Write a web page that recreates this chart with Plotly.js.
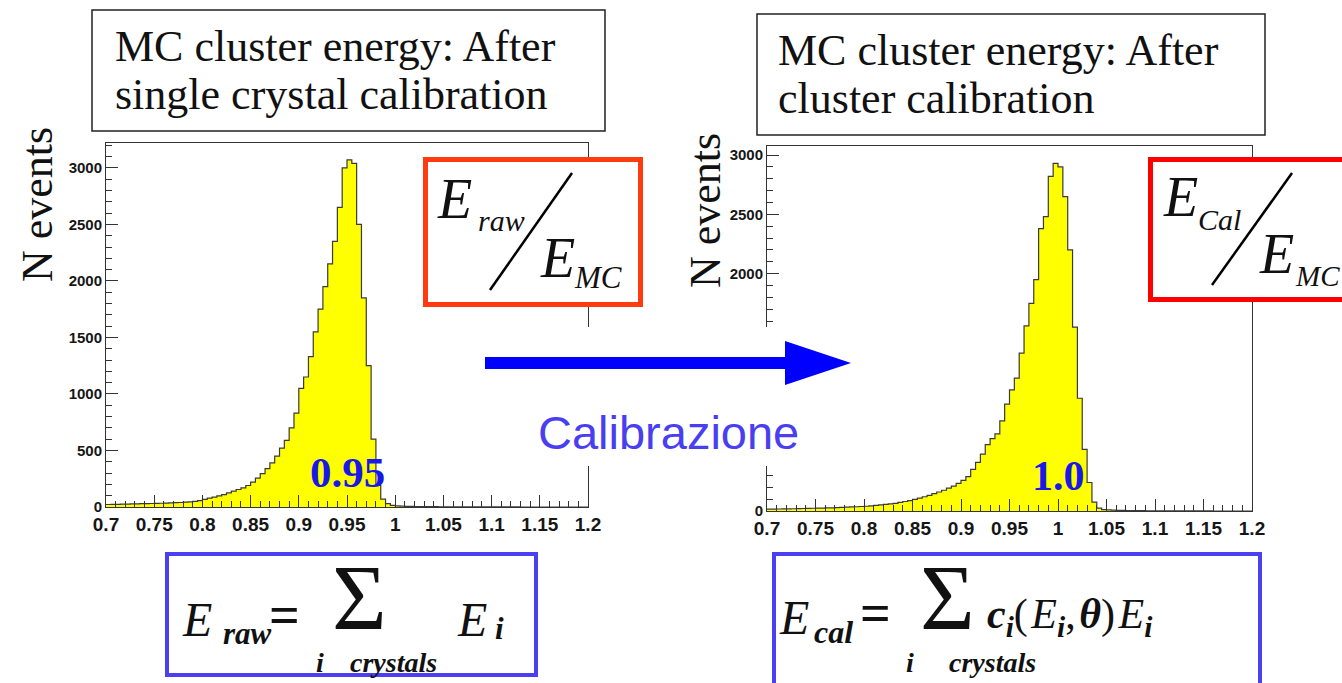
<!DOCTYPE html>
<html>
<head>
<meta charset="utf-8">
<script src="https://cdn.plot.ly/plotly-3.0.1.min.js"></script>
<style>
  html, body { margin: 0; padding: 0; background: #ffffff; }
  #chart { width: 1342px; height: 683px; }
</style>
</head>
<body>
<div id="chart"></div>
<script>
// Histogram binning: 100 bins of width 0.005 between 0.7 and 1.2
const binStart = 0.7;
const binWidth = 0.005;

// E_raw / E_MC after single crystal calibration (entries per bin)
const rawCounts = [
  22, 24, 23, 25, 26, 27, 28, 29, 30, 31,
  32, 33, 34, 36, 38, 40, 43, 46, 50, 56,
  68, 78, 88, 98, 110, 125, 140, 155, 170, 190,
  220, 255, 295, 340, 390, 450, 520, 590, 700, 830,
  1050, 1150, 1330, 1550, 1750, 1950, 2150, 2350, 2650, 3000,
  3070, 3040, 2500, 1850, 1250, 600, 190, 70, 30, 15,
  10, 7, 6, 5, 4, 4, 3, 3, 3, 2,
  2, 2, 2, 2, 1, 1, 1, 1, 1, 1,
  1, 1, 1, 1, 1, 1, 0, 0, 0, 0,
  0, 0, 0, 0, 0, 0, 0, 0, 0, 0
];

// E_Cal / E_MC after cluster calibration (entries per bin)
const calCounts = [
  15, 16, 17, 18, 18, 19, 20, 21, 22, 23,
  24, 25, 26, 27, 28, 30, 32, 34, 36, 38,
  40, 44, 48, 52, 56, 60, 65, 72, 80, 88,
  98, 108, 120, 132, 146, 160, 175, 192, 210, 232,
  258, 290, 350, 410, 480, 560, 610, 650, 760, 900,
  1020, 1120, 1330, 1560, 1750, 1950, 2380, 2480, 2820, 2930,
  2900, 2650, 2200, 1550, 950, 520, 240, 75, 25, 12,
  9, 7, 6, 5, 4, 4, 3, 3, 2, 2,
  2, 2, 2, 1, 1, 1, 1, 1, 1, 1,
  1, 1, 0, 0, 0, 0, 0, 0, 0, 0
];

// Peak positions quoted on each histogram
const rawPeak = 0.95;
const calPeak = 1.0;
const rawPeakLabel = "0.95";
const calPeakLabel = "1.0";

// Axis ticks
const xTickVals = [0.7, 0.75, 0.8, 0.85, 0.9, 0.95, 1.0, 1.05, 1.1, 1.15, 1.2];
const xTickText = ["0.7", "0.75", "0.8", "0.85", "0.9", "0.95", "1", "1.05", "1.1", "1.15", "1.2"];
const yTickValsRaw = [0, 500, 1000, 1500, 2000, 2500, 3000];
const yTickTextRaw = ["0", "500", "1000", "1500", "2000", "2500", "3000"];
// the 500-1500 ticks of the second panel lie behind the caption panel
const yTickValsCal = [0, 2000, 2500, 3000];
const yTickTextCal = ["0", "2000", "2500", "3000"];

const W = 1342, H = 683;
const px = v => v / W;
const py = v => 1 - v / H;
const bold = labels => labels.map(t => '<b>' + t + '</b>');

function histTraces(counts, xa, ya) {
  const centers = counts.map((c, i) => binStart + binWidth * (i + 0.5));
  const edges = counts.map((c, i) => binStart + binWidth * i);
  edges.push(binStart + binWidth * counts.length);
  const stepY = counts.concat([counts[counts.length - 1]]);
  return [
    {
      type: 'bar', x: centers, y: counts, width: binWidth,
      marker: { color: '#ffff00', line: { width: 0 } },
      xaxis: xa, yaxis: ya, hoverinfo: 'skip', showlegend: false
    },
    {
      type: 'scatter', mode: 'lines', x: edges, y: stepY,
      line: { shape: 'hv', color: '#3a3a3a', width: 1.2 },
      xaxis: xa, yaxis: ya, hoverinfo: 'skip', showlegend: false
    }
  ];
}

const tickFamily = 'Liberation Sans, Arial, sans-serif';

function xAxis(domain, anchor) {
  return {
    domain: domain, anchor: anchor, range: [0.7, 1.2],
    tickvals: xTickVals, ticktext: bold(xTickText),
    ticks: 'inside', ticklen: 12, tickwidth: 1, tickcolor: '#333',
    minor: { ticks: 'inside', tick0: 0.7, dtick: 0.01, ticklen: 6, tickwidth: 1, tickcolor: '#333' },
    showline: true, linecolor: '#333', linewidth: 1, mirror: true,
    showgrid: false, zeroline: false, fixedrange: true,
    tickfont: { family: tickFamily, size: 19, color: '#161616' }
  };
}

function yAxis(domain, anchor, top, vals, labels) {
  return {
    domain: domain, anchor: anchor, range: [0, top],
    tickvals: vals, ticktext: bold(labels),
    ticks: 'inside', ticklen: 12, tickwidth: 1, tickcolor: '#333',
    minor: { ticks: 'inside', tick0: 0, dtick: 100, ticklen: 6, tickwidth: 1, tickcolor: '#333' },
    showline: true, linecolor: '#333', linewidth: 1, mirror: true,
    showgrid: false, zeroline: false, fixedrange: true,
    tickfont: { family: tickFamily, size: 15, color: '#161616' }
  };
}

const data = histTraces(rawCounts, 'x', 'y').concat(histTraces(calCounts, 'x2', 'y2'));

const serif = 'Liberation Serif, Times New Roman, serif';
const blueBox = '#4b3ff2';

function note(text, x, y, size, opts) {
  return Object.assign({
    text: text, x: px(x), y: py(y), xref: 'paper', yref: 'paper',
    xanchor: 'left', yanchor: 'middle', showarrow: false,
    font: { family: serif, size: size, color: '#111' }
  }, opts || {});
}

const subI = '<sub><b><i>i</i></b></sub>';

const annotations = [
  // titles
  note('MC cluster energy: After', 113, 47, 44),
  note('single crystal calibration', 113, 95, 44),
  note('MC cluster energy: After', 776, 50, 44),
  note('cluster calibration', 776, 98, 44),
  // y axis titles
  note('N events', 37, 205, 44, { xanchor: 'center', textangle: -90 }),
  note('N events', 705, 210, 44, { xanchor: 'center', textangle: -90 }),
  // ratio E_raw / E_MC
  note('<i>E</i>', 435, 199, 56),
  note('<i>raw</i>', 476, 220, 30),
  note('<i>E</i>', 538, 258, 56),
  note('<i>MC</i>', 572, 277, 31),
  // ratio E_Cal / E_MC
  note('<i>E</i>', 1161, 197, 56),
  note('<i>Cal</i>', 1196, 219, 30),
  note('<i>E</i>', 1257, 254, 56),
  note('<i>MC</i>', 1293, 276, 29),
  // peak values
  {
    text: '<b>' + rawPeakLabel + '</b>', x: rawPeak, xref: 'x', y: py(472), yref: 'paper',
    xanchor: 'center', yanchor: 'middle', showarrow: false,
    font: { family: serif, size: 43, color: '#1818e8' }
  },
  {
    text: '<b>' + calPeakLabel + '</b>', x: calPeak, xref: 'x2', y: py(476), yref: 'paper',
    xanchor: 'center', yanchor: 'middle', showarrow: false,
    font: { family: serif, size: 42, color: '#1818e8' }
  },
  // arrow caption
  note('Calibrazione', 668, 432, 47, {
    xanchor: 'center',
    font: { family: 'Liberation Sans, Arial, sans-serif', size: 47, color: '#4a3ff0' }
  }),
  // E_raw formula
  note('<i>E</i>', 180, 619, 48),
  note('<b><i>raw</i></b>', 221, 633, 31),
  note('<b>=</b>', 267, 615, 54),
  note('\u03A3', 359, 597, 94, { xanchor: 'center' }),
  note('<b><i>i</i></b>', 320, 662, 28, { xanchor: 'center' }),
  note('<b><i>crystals</i></b>', 393, 662, 28, { xanchor: 'center' }),
  note('<i>E</i>', 455, 619, 48),
  note('<b><i>i</i></b>', 493, 628, 31),
  // E_cal formula
  note('<i>E</i>', 777, 617, 48),
  note('<b><i>cal</i></b>', 812, 632, 32),
  note('<b>=</b>', 858, 613, 54),
  note('\u03A3', 947, 597, 94, { xanchor: 'center' }),
  note('<b><i>i</i></b>', 910, 662, 28, { xanchor: 'center' }),
  note('<b><i>crystals</i></b>', 992, 662, 28, { xanchor: 'center' }),
  note('<b><i>c</i></b>' + subI + '(\u200A<i>E</i>' + subI + ',\u200A<b><i>\u03B8</i></b>)\u200A<i>E</i>' + subI,
       985, 617, 42)
];

const shapes = [
  // title boxes
  { type: 'rect', xref: 'paper', yref: 'paper', x0: px(92), x1: px(605), y0: py(10), y1: py(131),
    line: { color: '#222', width: 1.5 }, fillcolor: 'rgba(0,0,0,0)' },
  { type: 'rect', xref: 'paper', yref: 'paper', x0: px(757), x1: px(1265), y0: py(14), y1: py(135),
    line: { color: '#222', width: 1.5 }, fillcolor: 'rgba(0,0,0,0)' },
  // ratio boxes
  { type: 'rect', xref: 'paper', yref: 'paper', x0: px(425.5), x1: px(640.5), y0: py(159.5), y1: py(304.5),
    line: { color: '#ff3b0f', width: 5 }, fillcolor: '#ffffff' },
  { type: 'rect', xref: 'paper', yref: 'paper', x0: px(1150.5), x1: px(1348), y0: py(159.5), y1: py(299.5),
    line: { color: '#ff0000', width: 5 }, fillcolor: '#ffffff' },
  // fraction slashes
  { type: 'line', xref: 'paper', yref: 'paper', x0: px(572), y0: py(173), x1: px(490), y1: py(290),
    line: { color: '#000', width: 2.5 } },
  { type: 'line', xref: 'paper', yref: 'paper', x0: px(1292), y0: py(173), x1: px(1212), y1: py(285),
    line: { color: '#000', width: 2.5 } },
  // white panel behind the arrow and caption
  { type: 'rect', xref: 'paper', yref: 'paper', x0: px(478), x1: px(858), y0: py(327), y1: py(466),
    line: { width: 0 }, fillcolor: '#ffffff' },
  // arrow
  { type: 'rect', xref: 'paper', yref: 'paper', x0: px(485), x1: px(790), y0: py(357), y1: py(369),
    line: { width: 0 }, fillcolor: '#0000ff' },
  { type: 'path', xref: 'paper', yref: 'paper',
    path: 'M ' + px(785) + ' ' + py(341) + ' L ' + px(851) + ' ' + py(363) + ' L ' + px(785) + ' ' + py(385) + ' Z',
    line: { width: 0 }, fillcolor: '#0000ff' },
  // formula boxes
  { type: 'rect', xref: 'paper', yref: 'paper', x0: px(167), x1: px(536), y0: py(554), y1: py(675),
    line: { color: blueBox, width: 4 }, fillcolor: 'rgba(0,0,0,0)' },
  { type: 'rect', xref: 'paper', yref: 'paper', x0: px(774), x1: px(1260), y0: py(554), y1: py(700),
    line: { color: blueBox, width: 4 }, fillcolor: 'rgba(0,0,0,0)' }
];

const layout = {
  width: W, height: H,
  margin: { l: 0, r: 0, t: 0, b: 0 },
  paper_bgcolor: '#ffffff', plot_bgcolor: '#ffffff',
  showlegend: false, bargap: 0,
  xaxis: xAxis([px(106), px(588)], 'y'),
  yaxis: yAxis([py(507), py(143)], 'x', 3220, yTickValsRaw, yTickTextRaw),
  xaxis2: xAxis([px(767), px(1252)], 'y2'),
  yaxis2: yAxis([py(511), py(146)], 'x2', 3076, yTickValsCal, yTickTextCal),
  annotations: annotations,
  shapes: shapes
};

Plotly.newPlot('chart', data, layout, { displayModeBar: false, staticPlot: true });
</script>
</body>
</html>
